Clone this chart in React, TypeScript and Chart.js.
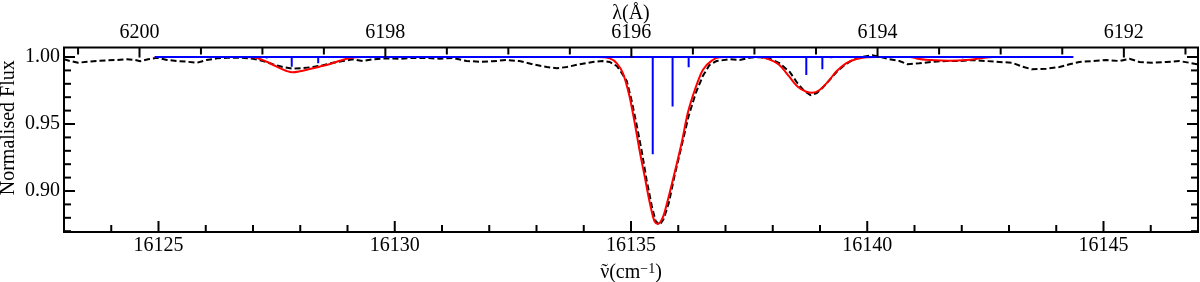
import React, { useEffect, useRef } from 'react';
import { Chart, registerables } from 'chart.js';

Chart.register(...registerables);

const X_MIN = 16123;
const X_MAX = 16147;
const Y_MIN = 0.8694;
const Y_MAX = 1.0071;

// Observed spectrum (black dashed)
const obsWavenumber = [
  16123.0, 16123.13, 16123.3, 16123.49, 16123.7, 16123.91, 16124.12, 16124.33, 16124.5, 16124.61,
  16124.78, 16124.97, 16125.18, 16125.39, 16125.6, 16125.81, 16126.02, 16126.24, 16126.45, 16126.72,
  16127.0, 16127.21, 16127.42, 16127.63, 16127.84, 16128.05, 16128.27, 16128.48, 16128.69, 16128.9,
  16129.11, 16129.32, 16129.54, 16129.83, 16130.11, 16130.38, 16130.68, 16130.95, 16131.23, 16131.52,
  16131.8, 16132.07, 16132.37, 16132.64, 16132.92, 16133.22, 16133.43, 16133.64, 16133.91, 16134.19,
  16134.4, 16134.55, 16134.7, 16134.8, 16134.91, 16135.01, 16135.12, 16135.23, 16135.33, 16135.44,
  16135.52, 16135.61, 16135.69, 16135.8, 16135.92, 16136.07, 16136.22, 16136.37, 16136.52, 16136.66,
  16136.81,
  16137.09, 16137.3, 16137.51, 16137.72, 16137.93, 16138.14, 16138.36, 16138.52, 16138.67,
  16138.8, 16138.93, 16139.05, 16139.2, 16139.35, 16139.52, 16139.69, 16139.9, 16140.11, 16140.26,
  16140.47, 16140.68, 16140.85, 16141.1, 16141.38, 16141.68, 16141.95, 16142.23, 16142.52, 16142.8,
  16143.07, 16143.28, 16143.49, 16143.79, 16144.07, 16144.28, 16144.49, 16144.76, 16145.06, 16145.34,
  16145.55, 16145.76, 16146.03, 16146.33, 16146.6, 16146.82, 16146.98,
];
const obsFlux = [
  0.9983, 0.997, 0.9957, 0.9965, 0.997, 0.9975, 0.9978, 0.9983, 0.9978, 0.9968,
  0.9983, 0.9995, 0.9978, 0.997, 0.9965, 0.9957, 0.9978, 0.999, 0.9995, 0.9995,
  0.9987, 0.997, 0.9946, 0.9925, 0.9913, 0.9918, 0.9925, 0.9938, 0.9957, 0.997,
  0.9983, 0.997, 0.9983, 0.999, 0.9987, 0.9993, 0.9993, 0.9987, 0.9993, 0.997,
  0.9965, 0.9968, 0.9978, 0.997, 0.9946, 0.9925, 0.9916, 0.9925, 0.9946, 0.9963,
  0.997, 0.9963, 0.9933, 0.9883, 0.9821, 0.9679, 0.9493, 0.9291, 0.9082, 0.8888,
  0.8776, 0.8746, 0.8791, 0.891, 0.9112, 0.9336, 0.956, 0.9731, 0.9858, 0.994,
  0.997,
  0.9983, 0.9978, 0.9995, 1.0, 0.9987, 0.9955, 0.9888, 0.9806, 0.9746,
  0.9716, 0.9731, 0.9769, 0.9828, 0.9888, 0.994, 0.9978, 1.0002, 1.0013, 1.0002,
  0.9983, 0.997, 0.9946, 0.9953, 0.9965, 0.997, 0.997, 0.9978, 0.997, 0.9963,
  0.9957, 0.9928, 0.9908, 0.9913, 0.9925, 0.9946, 0.9963, 0.997, 0.9978, 0.997,
  0.9987, 0.9963, 0.9957, 0.9963, 0.997, 0.9957, 0.9946,
];

// Model fit (red)
const modelWavenumber = [
  16124.92, 16126.8, 16127.0, 16127.29, 16127.5, 16127.71, 16127.83, 16127.99, 16128.2, 16128.41,
  16128.63, 16128.84, 16129.05, 16129.3, 16134.3, 16134.55, 16134.7, 16134.83, 16134.97, 16135.08,
  16135.18, 16135.29, 16135.4, 16135.5, 16135.57, 16135.68, 16135.78, 16135.92, 16136.07, 16136.2,
  16136.35, 16136.52, 16136.73, 16136.87, 16137.0, 16137.7, 16137.86, 16138.14, 16138.35, 16138.53,
  16138.71, 16138.84, 16138.99, 16139.17, 16139.34, 16139.55, 16139.77, 16139.98, 16140.2, 16140.9,
  16141.1, 16141.45, 16141.74, 16142.1, 16142.4, 16142.65, 16144.36,
];
const modelFlux = [
  1.0, 1.0, 0.9998, 0.9965, 0.9928, 0.9896, 0.9886, 0.9893, 0.991, 0.9928,
  0.9948, 0.9972, 0.9993, 1.0, 1.0, 0.999, 0.9953, 0.9878, 0.9704, 0.9505,
  0.9306, 0.9107, 0.8908, 0.8771, 0.8754, 0.8808, 0.8933, 0.9132, 0.9356, 0.958,
  0.9754, 0.9903, 0.9978, 0.9998, 1.0, 1.0, 0.999, 0.994, 0.9853, 0.9778,
  0.9741, 0.9734, 0.9754, 0.9816, 0.989, 0.9953, 0.9985, 0.9998, 1.0, 1.0,
  0.9985, 0.9975, 0.9973, 0.9978, 0.999, 1.0, 1.0,
];

// Stick spectrum (blue)
const stickBaseWavenumber = [16124.92, 16144.36];
const stickBaseFlux = [1.0, 1.0];
const stickWavenumber = [16127.29, 16127.82, 16128.38, 16135.46, 16135.88, 16136.22, 16138.71, 16139.05, 16139.24, 16141.74, 16142.02];
const stickFlux = [0.9988, 0.9928, 0.9953, 0.9274, 0.963, 0.9923, 0.9866, 0.9908, 0.999, 0.9992, 0.999];

// Axis ticks
const xMajorTicks = [16125, 16130, 16135, 16140, 16145];
const xMinorTicks = [16124, 16126, 16127, 16128, 16129, 16131, 16132, 16133, 16134, 16136, 16137, 16138, 16139, 16141, 16142, 16143, 16144, 16146];
const yMajorTicks = [0.9, 0.95, 1.0];
const yMinorTicks = [0.87, 0.88, 0.89, 0.91, 0.92, 0.93, 0.94, 0.96, 0.97, 0.98, 0.99];
const lambdaMajorTicks = [6200, 6198, 6196, 6194, 6192];
const lambdaMinorTicks = [6200.5, 6199.5, 6199, 6198.5, 6197.5, 6197, 6196.5, 6195.5, 6195, 6194.5, 6193.5, 6193, 6192.5, 6191.5];

// Axis titles
const X_TITLE_SYMBOL = 'ν';
const X_TITLE_TILDE = '˜';
const X_TITLE_UNIT = '(cm';
const X_TITLE_EXP = '−1';
const X_TITLE_CLOSE = ')';
const TOP_TITLE = 'λ(Å)';
const Y_TITLE = 'Normalised Flux';

const AIR_INDEX = 1.000275;
const lambdaToNu = (l: number) => 1e8 / (l * AIR_INDEX);

const FONT = "'Liberation Serif', 'Times New Roman', serif";

const framePlugin = {
  id: 'frameTicks',
  afterDraw(chart: any) {
    const { ctx, chartArea: a, scales } = chart;
    ctx.save();
    ctx.strokeStyle = '#000';
    ctx.lineWidth = 2;
    ctx.lineCap = 'butt';
    ctx.strokeRect(a.left, a.top, a.right - a.left, a.bottom - a.top);
    const seg = (x1: number, y1: number, x2: number, y2: number) => {
      ctx.beginPath();
      ctx.moveTo(x1, y1);
      ctx.lineTo(x2, y2);
      ctx.stroke();
    };
    const MAJ = 11;
    const MIN = 7;
    xMajorTicks.forEach((v) => { const p = scales.x.getPixelForValue(v); seg(p, a.bottom, p, a.bottom - MAJ); });
    xMinorTicks.forEach((v) => { const p = scales.x.getPixelForValue(v); seg(p, a.bottom, p, a.bottom - MIN); });
    lambdaMajorTicks.forEach((l) => { const p = scales.xTop.getPixelForValue(lambdaToNu(l)); seg(p, a.top, p, a.top + 10); });
    lambdaMinorTicks.forEach((l) => { const p = scales.xTop.getPixelForValue(lambdaToNu(l)); seg(p, a.top, p, a.top + MIN); });
    yMajorTicks.forEach((v) => {
      const p = scales.y.getPixelForValue(v);
      seg(a.left, p, a.left + MAJ, p);
      seg(a.right, p, a.right - MAJ, p);
    });
    yMinorTicks.forEach((v) => {
      const p = scales.y.getPixelForValue(v);
      seg(a.left, p, a.left + MIN, p);
      seg(a.right, p, a.right - MIN, p);
    });

    // bottom axis title: wavenumber symbol with tilde and superscript unit
    const big = `20px ${FONT}`;
    const small = `14px ${FONT}`;
    const base = scales.x.bottom - 4;
    const parts = [
      { t: X_TITLE_SYMBOL, f: big, dy: 0 },
      { t: X_TITLE_UNIT, f: big, dy: 0 },
      { t: X_TITLE_EXP, f: small, dy: -5 },
      { t: X_TITLE_CLOSE, f: big, dy: 0 },
    ];
    const widths = parts.map((p) => { ctx.font = p.f; return ctx.measureText(p.t).width; });
    const total = widths.reduce((s, w) => s + w, 0);
    let x = (a.left + a.right) / 2 - total / 2;
    ctx.fillStyle = '#000';
    ctx.textBaseline = 'alphabetic';
    ctx.textAlign = 'left';
    const nuX = x;
    parts.forEach((p, i) => {
      ctx.font = p.f;
      ctx.fillText(p.t, x, base + p.dy);
      x += widths[i];
    });
    ctx.font = big;
    ctx.textAlign = 'center';
    ctx.fillText(X_TITLE_TILDE, nuX + widths[0] / 2, base);
    ctx.restore();
  },
};

const noGrid = { display: false, drawTicks: false, tickLength: 0 };

export default function App() {
  const canvasRef = useRef<HTMLCanvasElement | null>(null);

  useEffect(() => {
    const canvas = canvasRef.current;
    if (!canvas) return;
    Chart.defaults.font.family = FONT;
    Chart.defaults.font.size = 20;
    Chart.defaults.color = '#000';

    const obsData = obsWavenumber.map((x, i) => ({ x, y: obsFlux[i] }));
    const modelData = modelWavenumber.map((x, i) => ({ x, y: modelFlux[i] }));
    const baseData = stickBaseWavenumber.map((x, i) => ({ x, y: stickBaseFlux[i] }));
    const stickData: any[] = [];
    stickWavenumber.forEach((x, i) => {
      stickData.push({ x, y: 1.0 }, { x, y: stickFlux[i] }, { x, y: null });
    });

    const chart = new Chart(canvas, {
      type: 'line',
      data: {
        datasets: [
          { data: baseData, borderColor: '#0000ff', borderWidth: 2, pointRadius: 0, fill: false },
          { data: stickData, borderColor: '#0000ff', borderWidth: 2, pointRadius: 0, fill: false, spanGaps: false },
          { data: modelData, borderColor: '#ff0000', borderWidth: 2, pointRadius: 0, fill: false, cubicInterpolationMode: 'monotone' },
          { data: obsData, borderColor: '#000000', borderWidth: 2, borderDash: [6, 3], pointRadius: 0, fill: false },
        ],
      },
      options: {
        responsive: false,
        animation: false,
        devicePixelRatio: 1,
        layout: { padding: { left: 0, right: 2, top: 0, bottom: 0 } },
        plugins: { legend: { display: false }, tooltip: { enabled: false } },
        events: [],
        scales: {
          x: {
            type: 'linear',
            position: 'bottom',
            min: X_MIN,
            max: X_MAX,
            grid: noGrid,
            border: { display: false },
            ticks: { padding: 1.5, maxRotation: 0, autoSkip: false, callback: (v: any) => String(v), font: { size: 20, family: FONT } },
            afterBuildTicks: (s: any) => { s.ticks = xMajorTicks.map((v) => ({ value: v })); },
            afterFit: (s: any) => { s.height = 50; },
            title: { display: false },
          },
          xTop: {
            type: 'linear',
            position: 'top',
            min: X_MIN,
            max: X_MAX,
            grid: noGrid,
            border: { display: false },
            ticks: { padding: 3, maxRotation: 0, autoSkip: false, callback: (_v: any, i: number) => String(lambdaMajorTicks[i]), font: { size: 20, family: FONT } },
            afterBuildTicks: (s: any) => { s.ticks = lambdaMajorTicks.map((l) => ({ value: lambdaToNu(l) })); },
            afterFit: (s: any) => { s.height = 47.5; },
            title: { display: true, text: TOP_TITLE, font: { size: 20, family: FONT, lineHeight: 1.2 }, padding: { top: 2, bottom: 0 }, color: '#000' },
          },
          y: {
            type: 'linear',
            position: 'left',
            min: Y_MIN,
            max: Y_MAX,
            grid: noGrid,
            border: { display: false },
            ticks: { padding: 4, autoSkip: false, callback: (v: any) => Number(v).toFixed(2), font: { size: 20, family: FONT } },
            afterBuildTicks: (s: any) => { s.ticks = yMajorTicks.map((v) => ({ value: v })); },
            afterFit: (s: any) => { s.width = 64; },
            title: { display: true, text: '    \u2009' + Y_TITLE, font: { size: 20, family: FONT, lineHeight: 0.83 }, padding: 0, color: '#000' },
          },
        },
      } as any,
      plugins: [framePlugin],
    });

    return () => { chart.destroy(); };
  }, []);

  return (
    <div style={{ position: 'absolute', left: 0, top: 0, width: 1200, height: 282, background: '#fff' }}>
      <canvas ref={canvasRef} width={1200} height={282} style={{ display: 'block' }} />
    </div>
  );
}
